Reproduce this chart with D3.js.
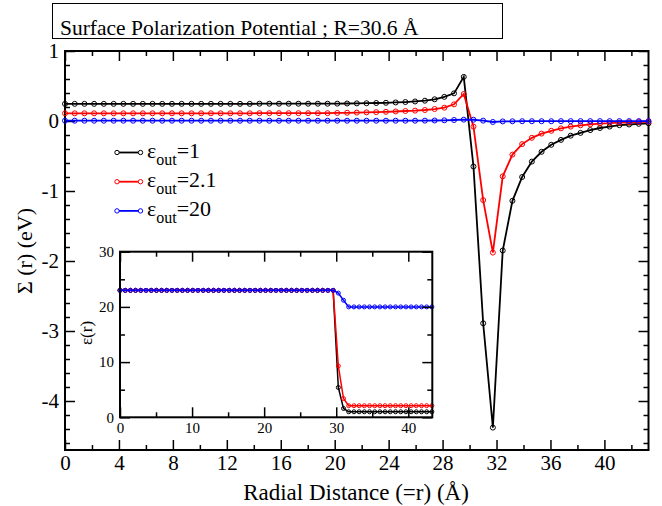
<!DOCTYPE html>
<html>
<head>
<meta charset="utf-8">
<script src="https://cdn.jsdelivr.net/npm/d3@7"></script>
</head>
<body style="margin:0">
<script>
// radial grid (Angstrom)
var radius = [0, 0.72, 1.44, 2.16, 2.88, 3.61, 4.33, 5.05, 5.77, 6.49, 7.21, 7.93, 8.65, 9.38, 10.10,
  10.82, 11.54, 12.26, 12.98, 13.70, 14.42, 15.15, 15.87, 16.59, 17.31, 18.03, 18.75, 19.47, 20.19, 20.92,
  21.64, 22.36, 23.08, 23.80, 24.52, 25.24, 25.96, 26.69, 27.41, 28.13, 28.85, 29.57, 30.29, 31.01, 31.73,
  32.46, 33.18, 33.90, 34.62, 35.34, 36.06, 36.78, 37.50, 38.23, 38.95, 39.67, 40.39, 41.11, 41.83, 42.55, 43.27];

// Sigma(r) in eV
var sigmaEps1 = [0.245, 0.245, 0.245, 0.245, 0.245, 0.245, 0.245, 0.245, 0.245, 0.245,
  0.245, 0.245, 0.245, 0.245, 0.245, 0.245, 0.245, 0.245, 0.245, 0.245,
  0.247, 0.247, 0.247, 0.247, 0.247, 0.247, 0.247, 0.247, 0.248, 0.25,
  0.252, 0.254, 0.257, 0.26, 0.265, 0.271, 0.279, 0.29, 0.31, 0.345,
  0.395, 0.63, -0.65, -2.89, -4.38, -1.85, -1.14, -0.80, -0.58, -0.44,
  -0.34, -0.27, -0.21, -0.17, -0.13, -0.10, -0.08, -0.06, -0.05, -0.04, -0.033];
var sigmaEps21 = [0.11, 0.11, 0.11, 0.11, 0.11, 0.11, 0.11, 0.11, 0.11, 0.11,
  0.11, 0.11, 0.11, 0.11, 0.11, 0.11, 0.11, 0.11, 0.11, 0.11,
  0.112, 0.112, 0.112, 0.112, 0.112, 0.112, 0.112, 0.112, 0.115, 0.117,
  0.12, 0.123, 0.127, 0.131, 0.136, 0.143, 0.148, 0.157, 0.171, 0.19,
  0.238, 0.386, -0.08, -1.13, -1.88, -0.79, -0.48, -0.33, -0.24, -0.18,
  -0.14, -0.105, -0.08, -0.062, -0.048, -0.038, -0.029, -0.024, -0.019, -0.014, -0.01];
var sigmaEps20 = [0.004, 0.004, 0.004, 0.004, 0.004, 0.004, 0.004, 0.004, 0.004, 0.004,
  0.004, 0.004, 0.004, 0.004, 0.004, 0.004, 0.004, 0.004, 0.004, 0.004,
  0.004, 0.004, 0.004, 0.004, 0.004, 0.004, 0.004, 0.004, 0.004, 0.004,
  0.004, 0.004, 0.004, 0.004, 0.004, 0.004, 0.004, 0.005, 0.007, 0.01,
  0.014, 0.019, 0.018, 0.005, -0.014, -0.006, -0.004, -0.003, -0.003, -0.003,
  -0.003, -0.002, -0.002, -0.002, -0.002, -0.002, -0.002, -0.002, -0.002, -0.002, -0.002];

// dielectric profile eps(r) for the inset
var epsOut1 = [23, 23, 23, 23, 23, 23, 23, 23, 23, 23, 23, 23, 23, 23, 23, 23, 23, 23, 23, 23,
  23, 23, 23, 23, 23, 23, 23, 23, 23, 23, 23, 23, 23, 23, 23, 23, 23, 23, 23, 23,
  23, 23, 5.4, 1.6, 1, 1, 1, 1, 1, 1, 1, 1, 1, 1, 1, 1, 1, 1, 1, 1, 1];
var epsOut21 = [23, 23, 23, 23, 23, 23, 23, 23, 23, 23, 23, 23, 23, 23, 23, 23, 23, 23, 23, 23,
  23, 23, 23, 23, 23, 23, 23, 23, 23, 23, 23, 23, 23, 23, 23, 23, 23, 23, 23, 23,
  23, 23, 9.3, 3.4, 2.1, 2.1, 2.1, 2.1, 2.1, 2.1, 2.1, 2.1, 2.1, 2.1, 2.1, 2.1, 2.1, 2.1, 2.1, 2.1, 2.1];
var epsOut20 = [23, 23, 23, 23, 23, 23, 23, 23, 23, 23, 23, 23, 23, 23, 23, 23, 23, 23, 23, 23,
  23, 23, 23, 23, 23, 23, 23, 23, 23, 23, 23, 23, 23, 23, 23, 23, 23, 23, 23, 23,
  23, 23, 22.5, 21.2, 20, 20, 20, 20, 20, 20, 20, 20, 20, 20, 20, 20, 20, 20, 20, 20, 20];

var seriesNames = ["1", "2.1", "20"];
var seriesColors = ["black", "red", "blue"];

var mainXTicks = [0, 4, 8, 12, 16, 20, 24, 28, 32, 36, 40];
var mainYTicks = [1, 0, -1, -2, -3, -4];
var insetXTicks = [0, 10, 20, 30, 40];
var insetYTicks = [0, 10, 20, 30];

var serif = "'Liberation Serif'";

var width = 662, height = 506;
var svg = d3.select("body").append("svg")
  .attr("width", width)
  .attr("height", height)
  .style("font-family", serif);

// title box
svg.append("rect").attr("x", 52.5).attr("y", 3.5).attr("width", 450).attr("height", 35)
  .attr("fill", "white").attr("stroke", "black").attr("stroke-width", 1);
svg.append("text").attr("x", 60).attr("y", 34.5).style("font-family", serif).style("font-size", "21.5px")
  .text("Surface Polarization Potential ; R=30.6 Å");

// main scales
var x = d3.scaleLinear().domain([0, 43.27]).range([65, 648.5]);
var y = d3.scaleLinear().domain([-4.7, 1]).range([450, 51]);

function frame(g, xs, ys, xTicks, xMinor, yTicks, yMinor, fontSize) {
  var x0 = xs.range()[0], x1 = xs.range()[1], y0 = ys.range()[0], y1 = ys.range()[1];
  // minor ticks
  g.append("g").attr("class", "axis").attr("transform", `translate(0,${y0})`)
    .call(d3.axisBottom(xs).tickValues(xMinor).tickSize(-5).tickFormat(""));
  g.append("g").attr("class", "axis").attr("transform", `translate(0,${y1})`)
    .call(d3.axisTop(xs).tickValues(xMinor).tickSize(-5).tickFormat(""));
  g.append("g").attr("class", "axis").attr("transform", `translate(${x0},0)`)
    .call(d3.axisLeft(ys).tickValues(yMinor).tickSize(-5).tickFormat(""));
  g.append("g").attr("class", "axis").attr("transform", `translate(${x1},0)`)
    .call(d3.axisRight(ys).tickValues(yMinor).tickSize(-5).tickFormat(""));
  // major ticks
  g.append("g").attr("class", "axis").attr("transform", `translate(0,${y0})`)
    .call(d3.axisBottom(xs).tickValues(xTicks).tickSize(-10).tickPadding(5).tickFormat(d3.format("d")));
  g.append("g").attr("class", "axis").attr("transform", `translate(0,${y1})`)
    .call(d3.axisTop(xs).tickValues(xTicks).tickSize(-10).tickFormat(""));
  g.append("g").attr("class", "axis").attr("transform", `translate(${x0},0)`)
    .call(d3.axisLeft(ys).tickValues(yTicks).tickSize(-10).tickPadding(6).tickFormat(function(d) { return d < 0 ? "-" + (-d) : d; }));
  g.append("g").attr("class", "axis").attr("transform", `translate(${x1},0)`)
    .call(d3.axisRight(ys).tickValues(yTicks).tickSize(-10).tickFormat(""));
  g.selectAll(".axis path").remove();
  g.selectAll(".axis").attr("font-family", null).attr("font-size", null);
  g.selectAll(".axis line").attr("stroke", "black").attr("stroke-width", 1.5);
  g.selectAll(".axis text").attr("fill", "black")
    .style("font-family", serif).style("font-size", fontSize);
  g.append("rect").attr("x", x0).attr("y", y1).attr("width", x1 - x0).attr("height", y0 - y1)
    .attr("fill", "none").attr("stroke", "black").attr("stroke-width", 2);
}

var main = svg.append("g");
frame(main, x, y, mainXTicks, d3.range(2, 43, 4), mainYTicks,
  d3.range(-4.6, 1, 0.2).filter(function(v) { return Math.abs(v - Math.round(v)) > 0.01; }), "21px");

var mainData = [sigmaEps1, sigmaEps21, sigmaEps20];
var line = d3.line().x(function(d, i) { return x(radius[i]); }).y(function(d) { return y(d); });
mainData.forEach(function(vals, k) {
  main.append("path").datum(vals).attr("d", line)
    .attr("fill", "none").attr("stroke", seriesColors[k]).attr("stroke-width", 1.8);
  main.selectAll(".pt" + k).data(vals).enter().append("circle")
    .attr("cx", function(d, i) { return x(radius[i]); })
    .attr("cy", function(d) { return y(d); })
    .attr("r", 2.5).attr("fill", "none")
    .attr("stroke", seriesColors[k]).attr("stroke-width", 1);
});

// axis titles
svg.append("text").attr("x", 356).attr("y", 500).attr("text-anchor", "middle")
  .style("font-family", serif).style("font-size", "23px").text("Radial Distance (=r) (Å)");
svg.append("text").attr("transform", "translate(32,251) rotate(-90)").attr("text-anchor", "middle")
  .style("font-family", serif).style("font-size", "22px").text("Σ (r) (eV)");

// legend
var legend = svg.append("g");
seriesNames.forEach(function(name, k) {
  var ly = 152.5 + k * 29.2;
  legend.append("line").attr("x1", 117).attr("x2", 140.5).attr("y1", ly).attr("y2", ly)
    .attr("stroke", seriesColors[k]).attr("stroke-width", 1.8);
  [117, 140.5].forEach(function(cx) {
    legend.append("circle").attr("cx", cx).attr("cy", ly).attr("r", 2.2)
      .attr("fill", "white").attr("stroke", seriesColors[k]).attr("stroke-width", 1);
  });
  var t = legend.append("text").attr("x", 147).attr("y", ly + 5)
    .style("font-family", serif).style("font-size", "22px");
  t.append("tspan").text("ε");
  t.append("tspan").attr("dy", 7).style("font-size", "16px").text("out");
  t.append("tspan").attr("dy", -7).text("=" + name);
});

// inset
var ix = d3.scaleLinear().domain([0, 43.33]).range([120, 432.3]);
var iy = d3.scaleLinear().domain([0, 30]).range([417.3, 251.7]);
var inset = svg.append("g");
inset.append("rect").attr("x", 120).attr("y", 251.7).attr("width", 312.3).attr("height", 165.6).attr("fill", "white");
var insetData = [epsOut1, epsOut21, epsOut20];
var iline = d3.line().x(function(d, i) { return ix(radius[i]); }).y(function(d) { return iy(d); });
insetData.forEach(function(vals, k) {
  inset.append("path").datum(vals).attr("d", iline)
    .attr("fill", "none").attr("stroke", seriesColors[k]).attr("stroke-width", 1.5);
  inset.selectAll(".ipt" + k).data(vals).enter().append("circle")
    .attr("cx", function(d, i) { return ix(radius[i]); })
    .attr("cy", function(d) { return iy(d); })
    .attr("r", 2).attr("fill", "none")
    .attr("stroke", seriesColors[k]).attr("stroke-width", 1);
});
frame(inset, ix, iy, insetXTicks, [5, 15, 25, 35], insetYTicks, [5, 15, 25], "15px");
svg.append("text").attr("transform", "translate(92,333) rotate(-90)").attr("text-anchor", "middle")
  .style("font-family", serif).style("font-size", "17px").text("ε(r)");
</script>
</body>
</html>
